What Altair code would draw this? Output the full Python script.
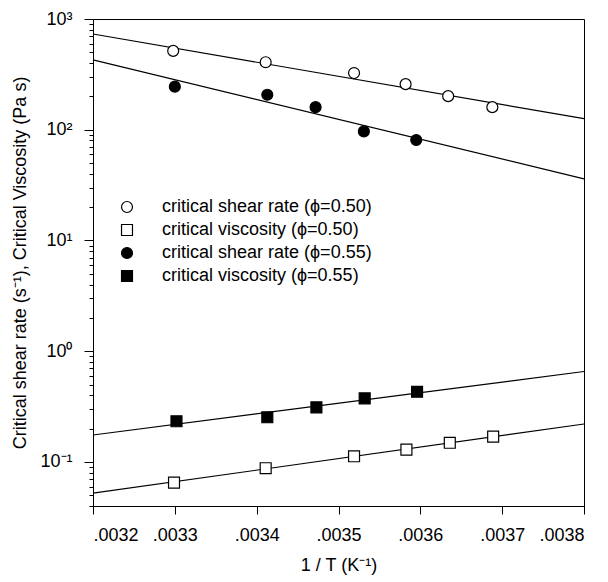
import altair as alt
import pandas as pd

# ---- data ----
series_names = [
    "critical shear rate (ϕ=0.50)",
    "critical viscosity (ϕ=0.50)",
    "critical shear rate (ϕ=0.55)",
    "critical viscosity (ϕ=0.55)",
]
series_shapes = ["circle", "square", "circle", "square"]
series_fills = ["white", "white", "black", "black"]
series_strokes = ["black", "black", "black", "black"]

x_rate_050 = [0.003298, 0.003411, 0.003519, 0.003582, 0.003634, 0.003688]
y_rate_050 = [515, 407, 325, 258, 201, 160]
x_visc_050 = [0.003299, 0.003411, 0.003519, 0.003583, 0.003636, 0.003689]
y_visc_050 = [0.0651, 0.0877, 0.1125, 0.129, 0.149, 0.169]
x_rate_055 = [0.003300, 0.003413, 0.003472, 0.003531, 0.003595]
y_rate_055 = [245, 207, 160, 96.6, 80.7]
x_visc_055 = [0.003302, 0.003413, 0.003473, 0.003532, 0.003596]
y_visc_055 = [0.233, 0.253, 0.311, 0.375, 0.430]

fit_x = [0.0032, 0.0038]
fit_rate_050 = [732, 126]
fit_rate_055 = [427, 36]
fit_visc_055 = [0.175, 0.656]
fit_visc_050 = [0.0522, 0.220]

x_ticks = [0.0032, 0.0033, 0.0034, 0.0035, 0.0036, 0.0037, 0.0038]
y_major = [0.1, 1, 10, 100, 1000]
y_minor = [0.04, 0.05, 0.06, 0.07, 0.08, 0.09,
           0.2, 0.3, 0.4, 0.5, 0.6, 0.7, 0.8, 0.9,
           2, 3, 4, 5, 6, 7, 8, 9,
           20, 30, 40, 50, 60, 70, 80, 90,
           200, 300, 400, 500, 600, 700, 800, 900]

# ---- tables ----
rows = []
for name, xs, ys in [
    (series_names[0], x_rate_050, y_rate_050),
    (series_names[1], x_visc_050, y_visc_050),
    (series_names[2], x_rate_055, y_rate_055),
    (series_names[3], x_visc_055, y_visc_055),
]:
    for xv, yv in zip(xs, ys):
        rows.append({"x": xv, "y": yv, "series": name})
pts = pd.DataFrame(rows)

lrows = []
for i, ys in enumerate([fit_rate_050, fit_rate_055, fit_visc_055, fit_visc_050]):
    for xv, yv in zip(fit_x, ys):
        lrows.append({"x": xv, "y": yv, "fit": i})
fits = pd.DataFrame(lrows)

FONT = "Liberation Sans"

x_scale = alt.Scale(domain=[0.0032, 0.0038], nice=False, zero=False)
y_scale = alt.Scale(type="log", domain=[0.04, 1000], nice=False)

x_axis = alt.Axis(
    values=x_ticks,
    labelExpr="slice(format(datum.value, '.4f'), 1)",
    title="1 / T (K⁻¹)",
    tickSize=8,
    labelPadding=12,
    titlePadding=12,
    grid=False,
)
y_axis = alt.Axis(
    values=y_major + y_minor,
    labelExpr=(
        "datum.value == 1000 ? '10³' : datum.value == 100 ? '10²' : "
        "datum.value == 10 ? '10¹' : datum.value == 1 ? '10⁰' : "
        "datum.value == 0.1 ? '10⁻¹' : ''"
    ),
    tickSize={"condition": {"test": "indexof([0.1, 1, 10, 100, 1000], datum.value) >= 0", "value": 9}, "value": 4},
    title="Critical shear rate (s⁻¹), Critical Viscosity (Pa s)",
    labelPadding=12,
    titlePadding=10,
    grid=False,
    labelOverlap=False,
)

legend = alt.Legend(
    title=None,
    orient="none",
    legendX=25,
    legendY=179,
    labelFont=FONT,
    labelFontSize=18,
    labelColor="black",
    labelLimit=0,
    symbolSize=120,
    symbolStrokeColor="black",
    symbolStrokeWidth=1.2,
    labelOffset=26,
    rowPadding=5,
    padding=0,
)

lines = alt.Chart(fits).mark_line(color="black", strokeWidth=1.2).encode(
    x=alt.X("x:Q", scale=x_scale, axis=x_axis),
    y=alt.Y("y:Q", scale=y_scale, axis=y_axis),
    detail="fit:N",
)

points = alt.Chart(pts).mark_point(
    filled=True, size=120, strokeWidth=1.2, opacity=1
).encode(
    x=alt.X("x:Q", scale=x_scale),
    y=alt.Y("y:Q", scale=y_scale),
    shape=alt.Shape("series:N", scale=alt.Scale(domain=series_names, range=series_shapes), legend=legend),
    fill=alt.Fill("series:N", scale=alt.Scale(domain=series_names, range=series_fills), legend=legend),
    stroke=alt.Stroke("series:N", scale=alt.Scale(domain=series_names, range=series_strokes), legend=legend),
)

chart = (
    alt.layer(lines, points)
    .properties(
        width=491,
        height=487,
        autosize=alt.AutoSizeParams(type="none"),
        padding={"left": 85, "top": 11, "right": 12, "bottom": 74},
        background="white",
    )
    .configure_view(stroke="black", strokeWidth=1)
    .configure_axis(
        labelFont=FONT,
        labelFontSize=18,
        labelColor="black",
        titleFont=FONT,
        titleFontSize=18,
        titleFontWeight="normal",
        titleColor="black",
        domainColor="black",
        tickColor="black",
        domainWidth=1,
        tickWidth=1,
    )
)

chart.save("out.html", embed_options={"renderer": "svg", "actions": False})
